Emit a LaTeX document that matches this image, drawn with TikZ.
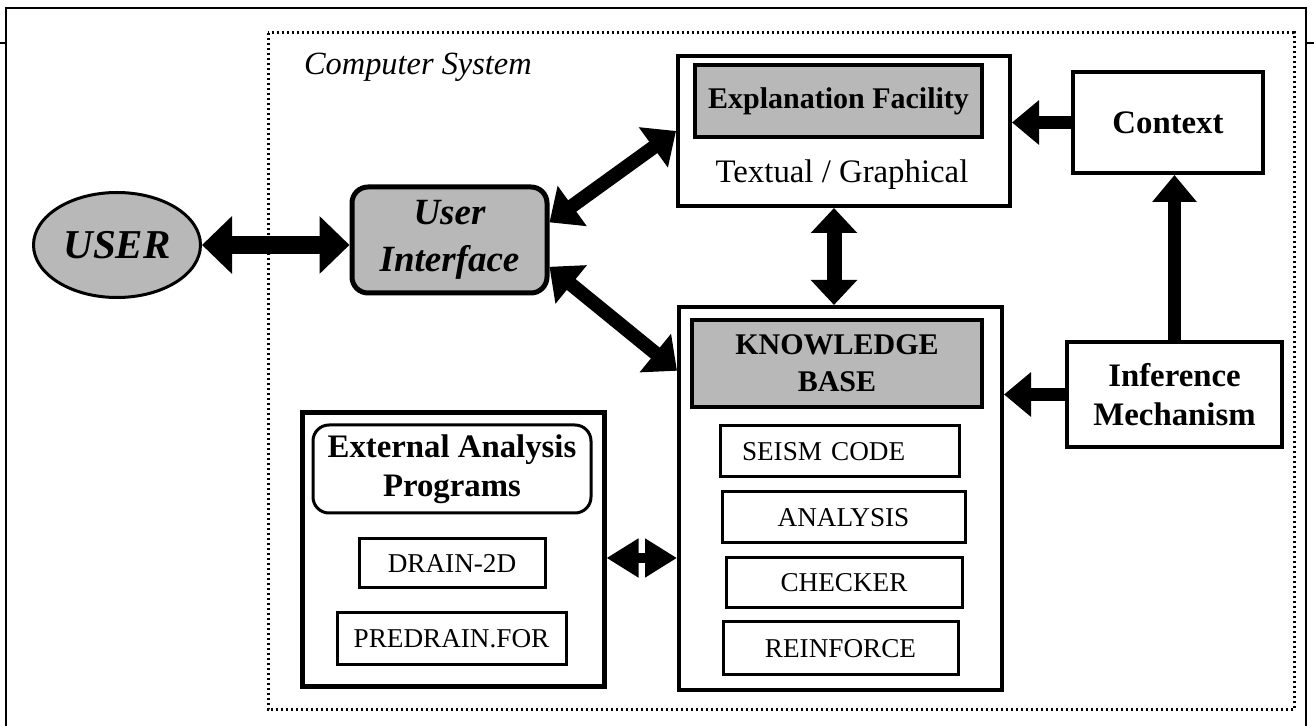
\documentclass[tikz,border=0pt]{standalone}
\usepackage{fontspec}
\setmainfont{Liberation Serif}
\usepackage{tikz}
\usetikzlibrary{arrows.meta,shapes.geometric}

\begin{document}
\begin{tikzpicture}[x=0.5pt,y=-0.5pt,
		box/.style={draw, line width=2pt, inner sep=0pt},
		shaded/.style={box, fill=black!28},
		subbox/.style={draw, line width=1.5pt, inner sep=0pt, font=\fontsize{13.6}{16}\selectfont},
		boldtext/.style={align=center, font=\fontsize{16.4}{19.5}\selectfont\bfseries},
		userarrow/.style={line width=9pt, >={Triangle[length=15pt,width=28pt]}},
		bigarrow/.style={line width=7pt, >={Triangle[length=14pt,width=24pt]}},
		midarrow/.style={line width=7.5pt, >={Triangle[length=12.5pt,width=22.5pt]}},
		smallarrow/.style={line width=6.5pt, >={Triangle[length=13.5pt,width=21.5pt]}},
		tinyarrow/.style={line width=5pt, >={Triangle[length=16pt,width=18.5pt]}}]
		\useasboundingbox (0,0) rectangle (1314,726);
		% page frame
		\draw[line width=0.75pt] (6,726) -- (6,8) -- (1306,8) -- (1306,726);
		\draw[line width=0.75pt] (0,43) -- (6,43);
		\draw[line width=0.75pt] (1306,43) -- (1314,43);
		% computer system
		\draw[line width=1.5pt, dash pattern=on 1.2pt off 1.3pt] (268,33) rectangle (1294,710);
		\node[anchor=west, font=\fontsize{16.2}{19}\selectfont\itshape] (compsys) at (297,67) {Computer System};
		\node[ellipse, draw, line width=1.5pt, fill=black!28, minimum width=83.5pt, minimum height=52.5pt, inner sep=0pt, font=\fontsize{20.5}{24}\selectfont\bfseries\itshape] (user) at (117,245) {USER};
		\node[shaded, rounded corners=8pt, line width=2.5pt, minimum width=97.5pt, minimum height=53pt, align=center, font=\fontsize{18.5}{23.5}\selectfont\bfseries\itshape] (ui) at (449.5,240) {User\\Interface};
		% explanation
		\node[box, minimum width=166pt, minimum height=75pt] (expl) at (844,131) {};
		\node[shaded, minimum width=143.5pt, minimum height=36pt, font=\fontsize{15}{18}\selectfont\bfseries] (explhead) at (838.5,101) {Explanation Facility};
		\node[font=\fontsize{16.4}{19}\selectfont] (expltype) at (842,175) {Textual / Graphical};
		\node[box, boldtext, minimum width=95pt, minimum height=50.5pt] (context) at (1168,122.5) {Context};
		\node[box, boldtext, minimum width=107.5pt, minimum height=52.5pt] (infer) at (1174.5,394.5) {Inference\\Mechanism};
		% knowledge base
		\node[box, minimum width=161.5pt, minimum height=191.5pt] (kb) at (840.5,498.5) {};
		\node[shaded, minimum width=145pt, minimum height=43.5pt, align=center, font=\fontsize{15}{18.5}\selectfont\bfseries] (kbhead) at (837,363.5) {KNOWLEDGE\\BASE};
		\node[subbox, text width=97.5pt, inner xsep=11pt, minimum height=25.5pt, align=left] (seism) at (839.5,451.5) {SEISM CODE};
		\node[subbox, minimum width=121.5pt, minimum height=25.5pt] (analysis) at (843.5,517.5) {ANALYSIS};
		\node[subbox, minimum width=118pt, minimum height=25pt] (checker) at (844,583) {CHECKER};
		\node[subbox, minimum width=117.5pt, minimum height=26.5pt] (reinforce) at (840.5,648.5) {REINFORCE};
		% external programs
		\node[box, line width=2.5pt, minimum width=151pt, minimum height=137pt] (ext) at (453,550) {};
		\node[draw, line width=1.5pt, rounded corners=8pt, inner sep=0pt, boldtext, minimum width=139pt, minimum height=44pt] (exthead) at (452,469) {External Analysis\\Programs};
		\node[subbox, minimum width=93pt, minimum height=24.5pt] (drain) at (452,563.5) {DRAIN-2D};
		\node[subbox, minimum width=114.5pt, minimum height=26pt] (predrain) at (451.5,639) {PREDRAIN.FOR};
		% connectors
		\draw[userarrow, <->] (user.east) -- (user.east -| ui.west);
		\draw[bigarrow, <->] (ui.10) -- (expl.west);
		\draw[bigarrow, <->] (ui.-15) -- (kb.142);
		\draw[midarrow, <->] ([xshift=-5pt]expl.south) -- ([xshift=-5pt]expl.south |- kb.north);
		\draw[smallarrow, ->] (context.west) -- (context.west -| expl.east);
		\draw[smallarrow, ->] (infer.north) -- (infer.north |- context.south);
		\draw[smallarrow, ->] (infer.west) -- (infer.west -| kb.east);
		\draw[tinyarrow, <->] ([yshift=-4pt]ext.east) -- ([yshift=-4pt]ext.east -| kb.west);
\end{tikzpicture}
\end{document}
